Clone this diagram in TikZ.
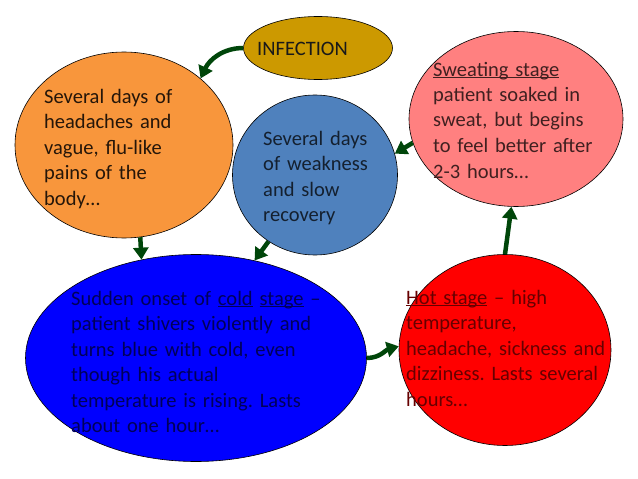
\documentclass[tikz,border=0pt]{standalone}
\usepackage{fontspec}
\setmainfont{Carlito}
\usepackage{xcolor}
\usetikzlibrary{arrows.meta, shapes.geometric}
\definecolor{infgold}{RGB}{204,153,0}
\definecolor{feverorange}{RGB}{248,150,60}
\definecolor{weakblue}{RGB}{79,129,189}
\definecolor{sweatpink}{RGB}{255,128,128}
\definecolor{coldblue}{RGB}{0,0,255}
\definecolor{hotred}{RGB}{255,0,0}
\definecolor{cyclegreen}{RGB}{0,70,10}
\frenchspacing

\begin{document}
\begin{tikzpicture}[x=1pt, y=-1pt,
  stage/.style={ellipse, draw=black, line width=0.6pt, inner sep=0pt},
  txt/.style={anchor=base west, align=left, text width=260pt, inner sep=0pt, font=\fontsize{20.5}{25.5}\selectfont},
  cyc/.style={-{Triangle[width=15pt,length=12pt]}, line width=4.5pt, cyclegreen}
]
\useasboundingbox (0,0) rectangle (638,479);

\node[stage, fill=infgold, minimum width=149pt, minimum height=63pt] (infection) at (318,48) {};
\node[stage, fill=feverorange, minimum width=218pt, minimum height=186pt] (orange) at (124,145) {};
\node[stage, fill=weakblue, minimum width=165pt, minimum height=160pt] (weak) at (315,175) {};
\node[stage, fill=sweatpink, minimum width=214pt, minimum height=175pt] (sweat) at (516,119) {};
\node[stage, fill=coldblue, minimum width=341pt, minimum height=207pt] (cold) at (196,358) {};
\node[stage, fill=hotred, minimum width=212pt, minimum height=191pt] (hot) at (505,350) {};

\node[txt, text=black!90] (infection-txt) at (257,55) {INFECTION};
\node[txt, text=feverorange!15!black] (orange-txt) at (44,103)
  {Several days of\\headaches and\\vague, flu-like\\pains of the\\body…};
\node[txt, text=weakblue!25!black] (weak-txt) at (263,145)
  {Several days\\of weakness\\and slow\\recovery};
\node[txt, text=sweatpink!25!black] (sweat-txt) at (433,76)
  {\underline{\smash{Sweating stage}}\\patient soaked in\\sweat, but begins\\to feel better after\\2-3 hours…};
\node[txt, text=coldblue!35!black] (cold-txt) at (71,305)
  {Sudden onset of \underline{\smash{cold}} \underline{\smash{stage}} --\\patient shivers violently and\\turns blue with cold, even\\though his actual\\temperature is rising. Lasts\\about one hour…};
\node[txt, text=hotred!40!black] (hot-txt) at (406,304)
  {\underline{\smash{Hot stage}} -- high\\temperature,\\headache, sickness and\\dizziness. Lasts several\\hours…};

\draw[cyc] (infection.west) to[out=180, in=65] (orange.41);
\draw[cyc] (orange.-80) -- (cold.119);
\draw[cyc] (weak.235) -- (cold.59);
\draw[cyc] (sweat.193) -- (weak.15);
\draw[cyc] (hot.north) -- (sweat.-93);
\draw[cyc] (cold.east) to[out=0, in=195] (hot.178);
\end{tikzpicture}
\end{document}
